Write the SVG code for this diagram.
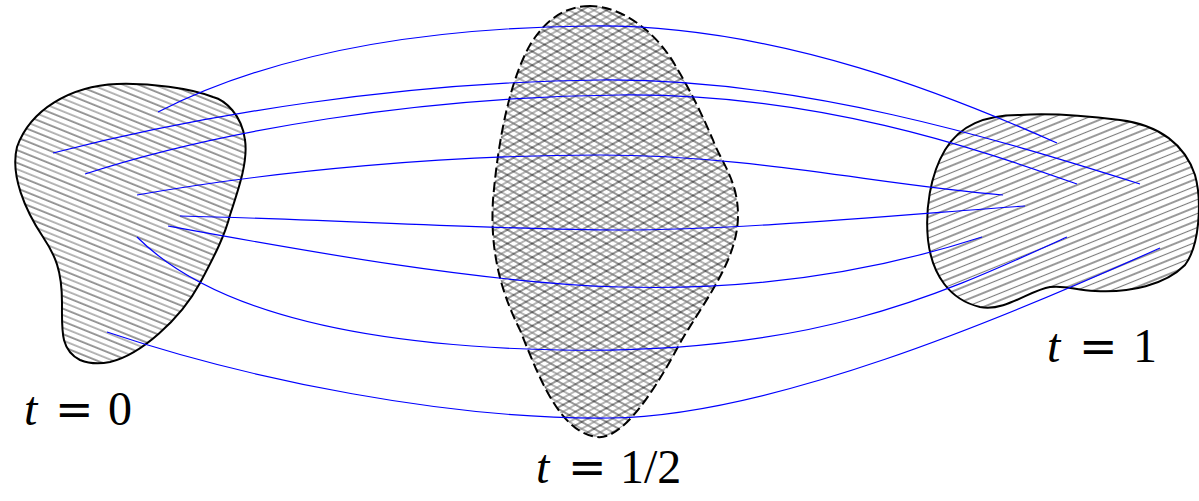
<svg xmlns="http://www.w3.org/2000/svg" width="1199" height="501" viewBox="0 0 1199 501">
<style>
.blob{stroke:#000;stroke-width:2;fill:none}
.dash{stroke:#000;stroke-width:2;fill:none;stroke-dasharray:10 4.5}
.hb{stroke:#000;stroke-width:0.8}
.hg{stroke:#7a7a7a;stroke-width:1.1}
.conn path{fill:none;stroke:#0000ff;stroke-width:1.2}
.lbl{font-family:"Liberation Serif","Times New Roman",serif;font-size:48px;fill:#000}
.it{font-style:italic}
.eq{font-family:"DejaVu Serif",serif;font-size:46px}
</style>
<defs>
<pattern id="hatchL" patternUnits="userSpaceOnUse" width="20" height="11.8" patternTransform="rotate(22)">
<line class="hb" x1="0" y1="3" x2="20" y2="3"/><line class="hg" x1="0" y1="8.9" x2="20" y2="8.9"/>
</pattern>
<pattern id="hatchR" patternUnits="userSpaceOnUse" width="20" height="13" patternTransform="rotate(-22)">
<line class="hb" x1="0" y1="3" x2="20" y2="3"/><line class="hg" x1="0" y1="9.5" x2="20" y2="9.5"/>
</pattern>
<pattern id="crossA" patternUnits="userSpaceOnUse" width="20" height="12" patternTransform="rotate(29)">
<line class="hb" x1="0" y1="3" x2="20" y2="3"/><line class="hg" x1="0" y1="9" x2="20" y2="9"/>
</pattern>
<pattern id="crossB" patternUnits="userSpaceOnUse" width="20" height="12" patternTransform="rotate(-29)">
<line class="hb" x1="0" y1="3" x2="20" y2="3"/><line class="hg" x1="0" y1="9" x2="20" y2="9"/>
</pattern>
<path id="shapeHalf" d="M590,6 C565,6 545,20 530,45 C510,80 498,140 493,200 C490,250 500,290 520,330 C540,380 560,432 597,437 C620,440 650,400 680,343 C705,300 738,260 738,215 C738,180 720,160 713,140 C700,110 690,90 675,65 C655,30 620,6 590,6 Z"/>
</defs>
<g id="node-t0">
<path fill="url(#hatchL)" d="M117,84 C70,86 30,110 17,147 C10,175 25,210 43,237 C55,255 62,270 62,303 C62,330 60,350 80,360 C90,364 100,364 110,362 C140,355 180,320 200,283 C215,255 225,235 230,215 C240,185 248,160 245,140 C242,115 225,100 213,97 C190,88 150,83 117,84 Z"/>
<path class="blob" d="M117,84 C70,86 30,110 17,147 C10,175 25,210 43,237 C55,255 62,270 62,303 C62,330 60,350 80,360 C90,364 100,364 110,362 C140,355 180,320 200,283 C215,255 225,235 230,215 C240,185 248,160 245,140 C242,115 225,100 213,97 C190,88 150,83 117,84 Z"/>
<text class="lbl" y="425"><tspan class="it" x="24">t</tspan><tspan class="eq" x="55">=</tspan><tspan x="108">0</tspan></text>
</g>
<g id="node-thalf">
<use href="#shapeHalf" fill="url(#crossA)"/>
<use href="#shapeHalf" fill="url(#crossB)"/>
<use href="#shapeHalf" class="dash"/>
<text class="lbl" y="483"><tspan class="it" x="536">t</tspan><tspan class="eq" x="568">=</tspan><tspan x="620">1/2</tspan></text>
</g>
<g id="node-t1">
<path fill="url(#hatchR)" d="M1020,115 C985,115 960,125 945,150 C930,175 925,210 928,240 C932,275 950,300 980,307 C1005,312 1030,290 1050,287 C1065,285 1075,290 1095,291 C1130,293 1165,285 1185,265 C1200,245 1202,200 1195,175 C1185,145 1160,125 1120,120 C1080,115 1050,113 1020,115 Z"/>
<path class="blob" d="M1020,115 C985,115 960,125 945,150 C930,175 925,210 928,240 C932,275 950,300 980,307 C1005,312 1030,290 1050,287 C1065,285 1075,290 1095,291 C1130,293 1165,285 1185,265 C1200,245 1202,200 1195,175 C1185,145 1160,125 1120,120 C1080,115 1050,113 1020,115 Z"/>
<text class="lbl" y="362"><tspan class="it" x="1047">t</tspan><tspan class="eq" x="1079">=</tspan><tspan x="1133">1</tspan></text>
</g>
<g id="connectors" class="conn">
<path d="M158,112 C260,60 400,28 590,26 S960,100 1057,143"/>
<path d="M53,153 C200,115 400,82 600,80 S1000,140 1140,184"/>
<path d="M85,174 C220,130 420,97 620,95 S980,150 1077,184"/>
<path d="M137,195 C280,170 450,155 600,155 S880,185 1003,195"/>
<path d="M180,216 C350,220 500,230 620,230 S900,215 1025,206"/>
<path d="M168,226 C300,250 480,283 620,287 S880,270 982,237"/>
<path d="M137,237 C190,290 300,345 560,350 S950,290 1067,237"/>
<path d="M107,332 C250,380 450,420 610,418 S1000,320 1160,248"/>
</g>
</svg>
